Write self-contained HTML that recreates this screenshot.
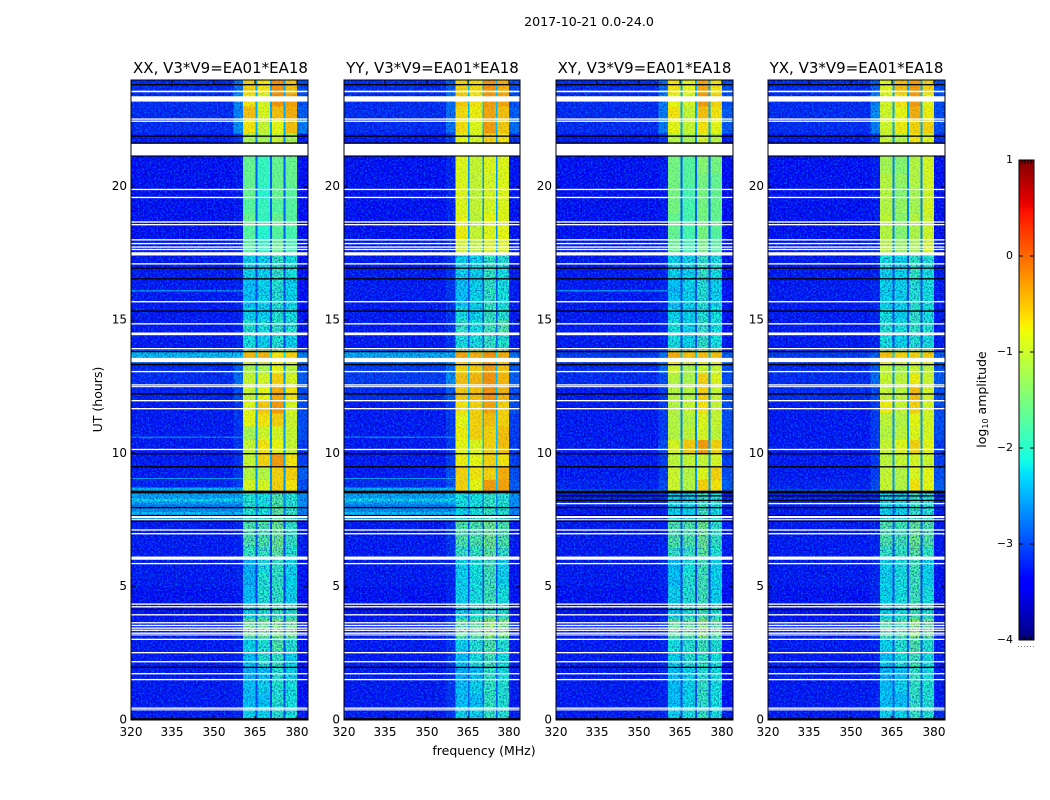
<!DOCTYPE html>
<html lang="en">
<head>
<meta charset="utf-8">
<title>2017-10-21 0.0-24.0</title>
<style>
html,body{margin:0;padding:0;background:#fff;}
svg{display:block;}
text{font-family:"DejaVu Sans","Liberation Sans",sans-serif;fill:#000;}
.tick{font-size:12px;}
.title{font-size:15px;text-anchor:middle;}
.label{font-size:12.5px;text-anchor:middle;}
</style>
</head>
<body>
<svg id="figure" xmlns="http://www.w3.org/2000/svg" width="1050" height="800" viewBox="0 0 1050 800">
  <defs>
    <filter id="speckle-dark" filterUnits="userSpaceOnUse" x="0" y="0" width="1050" height="800" color-interpolation-filters="sRGB">
      <feTurbulence type="fractalNoise" baseFrequency="0.62" numOctaves="1" seed="4"/>
      <feColorMatrix type="matrix" values="0 0 0 0 0  0 0 0 0 0  0 0 0 0 0.55  2.6 0 0 0 -1.1"/>
      <feComposite in2="SourceGraphic" operator="in"/>
    </filter>
    <filter id="speckle-light" filterUnits="userSpaceOnUse" x="0" y="0" width="1050" height="800" color-interpolation-filters="sRGB">
      <feTurbulence type="fractalNoise" baseFrequency="0.58" numOctaves="1" seed="11"/>
      <feColorMatrix type="matrix" values="0 0 0 0 0  0 0 0 0 0.65  0 0 0 0 1  0 2.6 0 0 -1.15"/>
      <feComposite in2="SourceGraphic" operator="in"/>
    </filter>
  </defs>
  <rect x="0" y="0" width="1050" height="800" fill="#fff"/>
  <text x="589" y="26" class="label" style="font-size:12.6px">2017-10-21 0.0-24.0</text>
  <text x="220.5" y="73" class="title">XX, V3*V9=EA01*EA18</text>
  <text x="432.5" y="73" class="title">YY, V3*V9=EA01*EA18</text>
  <text x="644.5" y="73" class="title">XY, V3*V9=EA01*EA18</text>
  <text x="856.5" y="73" class="title">YX, V3*V9=EA01*EA18</text>
  <text x="484" y="755" class="label">frequency (MHz)</text>
  <text class="label" transform="translate(102 399.5) rotate(-90)">UT (hours)</text>
  <text class="label" transform="translate(986 399.5) rotate(-90)">log<tspan font-size="8px" dy="2">10</tspan><tspan dy="-2"> amplitude</tspan></text>
  <g id="panels"></g>
  <g id="colorbar"></g>
</svg>
<script>
// UT row boundaries (hours)
const rowEdges = [0,.5,1,1.5,2,2.5,3.1,3.8,4.3,5,5.5,6,6.5,7.5,8,8.54,9,9.5,10,10.5,11,11.5,12,12.5,13,13.4,13.85,14.5,15,15.5,16,16.5,17,17.5,18,18.5,19,19.5,20,20.5,21.15,21.6,22,22.5,23,23.5,24];
// frequency column boundaries (MHz)
const freqEdges = [320,357,360.5,365.1,365.7,370.3,370.9,375.2,375.8,380,384];
// which value of a row each frequency column reads: background, near-band, sub1, gap, sub2, gap, sub3, gap, sub4, upper edge
const columnSource = [0,1,2,6,3,6,4,6,5,7];

// log10 amplitude per row: [background, near-band, sub1, sub2, sub3, sub4, gap, upper edge]
const amplitudeXX = [
[-3.3,-3.25,-2.2,-2.2,-2.0,-2.1,-3.0,-3.3],[-3.3,-3.25,-2.3,-2.3,-2.0,-2.1,-3.0,-3.35],[-3.3,-3.25,-2.3,-2.2,-2.0,-2.1,-3.0,-3.35],[-3.3,-3.25,-2.4,-2.3,-2.0,-2.2,-3.0,-3.35],[-3.3,-3.25,-2.3,-2.0,-1.9,-2.2,-3.0,-3.35],[-3.3,-3.25,-2.2,-2.0,-1.7,-2.0,-3.0,-3.35],
[-3.3,-3.2,-1.5,-1.5,-1.4,-1.5,-2.9,-3.35],[-3.35,-3.3,-2.2,-2.0,-1.9,-2.0,-3.0,-3.4],[-3.35,-3.3,-2.3,-2.0,-1.9,-2.2,-3.1,-3.4],[-3.3,-3.25,-2.4,-2.0,-1.9,-2.2,-3.1,-3.35],[-3.3,-3.25,-2.4,-2.1,-1.9,-2.2,-3.1,-3.35],[-3.3,-3.25,-1.9,-1.9,-1.6,-2.0,-3.0,-3.3],
[-3.3,-3.25,-1.7,-1.7,-1.5,-1.9,-3.0,-3.3],[-2.6,-2.6,-2.0,-2.1,-1.6,-1.9,-2.7,-2.7],[-2.5,-2.5,-2.0,-2.1,-1.7,-2.0,-2.6,-2.6],[-3.25,-3.1,-0.9,-0.9,-0.6,-0.7,-2.6,-3.0],[-3.3,-3.15,-1.1,-1.1,-0.6,-0.6,-2.6,-2.9],[-3.3,-3.15,-1.0,-0.6,-0.3,-0.7,-2.5,-3.1],
[-3.3,-3.15,-1.0,-0.7,-0.8,-1.0,-2.6,-3.1],[-3.3,-3.15,-1.2,-0.95,-0.9,-1.0,-2.6,-3.0],[-3.3,-3.15,-0.8,-0.7,-0.6,-0.95,-2.6,-3.0],[-3.3,-3.15,-0.85,-0.55,-0.3,-0.9,-2.5,-3.0],[-3.25,-3.0,-1.0,-0.8,-0.4,-0.7,-2.5,-3.0],[-3.2,-2.8,-1.0,-0.9,-0.6,-0.9,-2.6,-2.9],
[-3.2,-2.9,-1.2,-1.2,-0.8,-1.1,-2.6,-3.0],[-2.5,-2.4,-0.45,-0.45,-0.7,-0.6,-2.2,-2.7],[-3.3,-3.25,-2.1,-2.2,-2.0,-2.2,-3.0,-3.35],[-3.3,-3.25,-2.0,-2.1,-1.9,-2.0,-3.0,-3.35],[-3.3,-3.25,-2.2,-2.2,-2.0,-2.1,-3.0,-3.35],[-3.3,-3.25,-2.3,-2.2,-2.0,-2.2,-3.0,-3.35],
[-3.3,-3.25,-2.3,-2.2,-2.0,-2.2,-3.0,-3.35],[-3.3,-3.25,-2.2,-2.2,-1.9,-2.1,-3.0,-3.35],[-3.3,-3.25,-2.2,-2.2,-1.9,-2.1,-3.0,-3.35],[-3.3,-3.25,-1.7,-1.9,-1.6,-1.8,-2.9,-3.35],[-3.35,-3.3,-1.7,-2.0,-1.7,-1.8,-2.9,-3.4],[-3.35,-3.3,-1.6,-1.9,-1.6,-1.7,-2.9,-3.4],
[-3.35,-3.3,-1.7,-1.9,-1.7,-1.7,-2.9,-3.4],[-3.35,-3.3,-1.6,-2.0,-1.6,-1.7,-2.9,-3.4],[-3.35,-3.3,-1.6,-1.9,-1.6,-1.6,-2.9,-3.4],[-3.35,-3.3,-1.6,-1.9,-1.6,-1.6,-2.9,-3.4],[-3.35,-3.3,-1.6,-1.9,-1.6,-1.6,-2.9,-3.4],[-3.3,-3.15,-1.2,-1.2,-1.0,-1.2,-2.7,-3.3],
[-3.2,-2.6,-0.7,-1.0,-0.8,-0.5,-2.5,-2.7],[-3.2,-2.7,-0.5,-0.9,-0.5,-0.4,-2.5,-2.9],[-3.2,-2.6,-0.7,-0.9,-0.25,-0.35,-2.5,-3.0],[-3.2,-2.8,-0.6,-0.7,-0.25,-0.5,-2.5,-3.0]];

const amplitudeYY = [
[-3.3,-3.15,-2.2,-2.2,-1.9,-2.0,-2.9,-3.3],[-3.3,-3.15,-2.3,-2.3,-1.9,-2.0,-2.9,-3.3],[-3.3,-3.15,-2.3,-2.2,-1.9,-2.0,-2.9,-3.3],[-3.3,-3.15,-2.4,-2.3,-1.9,-2.1,-2.9,-3.3],[-3.3,-3.15,-2.3,-2.1,-1.8,-2.1,-2.9,-3.3],[-3.3,-3.15,-2.2,-2.0,-1.7,-2.0,-2.9,-3.3],
[-3.3,-3.15,-1.6,-1.6,-1.3,-1.4,-2.9,-3.3],[-3.35,-3.25,-2.2,-2.1,-1.8,-2.0,-3.0,-3.35],[-3.35,-3.25,-2.2,-2.1,-1.8,-2.1,-3.0,-3.35],[-3.3,-3.25,-2.2,-2.1,-1.8,-2.2,-3.0,-3.35],[-3.3,-3.25,-2.2,-2.1,-1.8,-2.2,-3.0,-3.35],[-3.3,-3.15,-1.9,-1.9,-1.6,-1.9,-3.0,-3.3],
[-3.3,-3.15,-1.7,-1.7,-1.5,-1.7,-2.9,-3.3],[-2.6,-2.6,-2.2,-2.1,-1.9,-2.0,-2.7,-2.7],[-2.5,-2.4,-2.1,-2.1,-1.9,-2.0,-2.6,-2.6],[-3.2,-3.0,-0.6,-0.8,-0.3,-0.35,-2.4,-2.9],[-3.3,-3.0,-0.6,-0.7,-0.6,-0.4,-2.4,-3.0],[-3.3,-3.1,-0.75,-0.8,-0.6,-0.7,-2.4,-3.1],
[-3.3,-3.1,-0.8,-0.85,-0.6,-0.5,-2.4,-3.1],[-3.3,-3.1,-0.75,-0.6,-0.6,-0.5,-2.4,-3.1],[-3.3,-3.1,-0.8,-0.6,-0.5,-0.6,-2.4,-3.1],[-3.3,-3.1,-0.7,-0.6,-0.35,-0.6,-2.4,-3.0],[-3.2,-2.9,-0.55,-0.5,-0.25,-0.45,-2.4,-3.0],[-3.1,-2.6,-0.5,-0.45,-0.25,-0.45,-2.4,-2.9],
[-3.1,-2.8,-0.6,-0.55,-0.3,-0.5,-2.4,-2.9],[-2.6,-2.5,-0.35,-0.4,-0.25,-0.4,-2.2,-2.8],[-3.3,-3.15,-2.1,-2.1,-1.9,-2.0,-2.9,-3.3],[-3.3,-3.15,-1.9,-2.1,-1.8,-1.7,-2.9,-3.3],[-3.3,-3.15,-2.1,-2.2,-1.9,-2.0,-3.0,-3.3],[-3.3,-3.15,-2.3,-2.2,-1.9,-2.1,-3.0,-3.3],
[-3.3,-3.15,-2.3,-2.2,-1.9,-2.1,-3.0,-3.3],[-3.3,-3.15,-2.2,-2.2,-1.9,-2.1,-3.0,-3.3],[-3.3,-3.15,-2.2,-2.2,-1.9,-2.0,-3.0,-3.3],[-3.3,-3.25,-0.95,-1.05,-0.9,-0.9,-2.6,-3.3],[-3.35,-3.25,-0.75,-1.0,-0.85,-0.8,-2.6,-3.35],[-3.35,-3.25,-0.8,-1.05,-0.8,-0.85,-2.6,-3.35],
[-3.35,-3.25,-0.85,-1.0,-0.9,-0.85,-2.6,-3.35],[-3.35,-3.25,-0.85,-1.05,-0.9,-0.85,-2.6,-3.35],[-3.35,-3.25,-0.85,-1.0,-0.9,-0.85,-2.6,-3.35],[-3.35,-3.25,-0.85,-1.0,-0.85,-0.85,-2.6,-3.35],[-3.35,-3.25,-0.85,-1.0,-0.85,-0.85,-2.6,-3.35],[-3.3,-3.1,-0.8,-0.9,-0.6,-0.7,-2.6,-3.2],
[-3.2,-2.8,-0.65,-0.85,-0.3,-0.55,-2.4,-2.8],[-3.2,-2.8,-0.65,-0.75,-0.35,-0.5,-2.4,-2.9],[-3.2,-2.8,-0.55,-0.7,-0.3,-0.35,-2.4,-3.0],[-3.2,-2.9,-0.6,-0.65,-0.25,-0.4,-2.4,-3.0]];

const amplitudeXY = [
[-3.3,-3.25,-2.2,-2.1,-1.9,-2.1,-3.0,-3.3],[-3.3,-3.25,-2.3,-2.2,-1.9,-2.1,-3.0,-3.35],[-3.3,-3.25,-2.3,-2.2,-1.9,-2.1,-3.0,-3.35],[-3.3,-3.25,-2.3,-2.2,-2.0,-2.1,-3.0,-3.35],[-3.3,-3.25,-2.2,-2.0,-1.9,-2.1,-3.0,-3.35],[-3.3,-3.25,-2.1,-2.0,-1.8,-2.0,-3.0,-3.35],
[-3.3,-3.2,-1.6,-1.6,-1.3,-1.6,-2.9,-3.35],[-3.35,-3.3,-2.2,-2.0,-1.8,-2.0,-3.0,-3.4],[-3.35,-3.3,-2.2,-2.0,-1.8,-2.2,-3.1,-3.4],[-3.3,-3.25,-2.3,-2.0,-1.8,-2.2,-3.1,-3.35],[-3.3,-3.25,-2.3,-2.1,-1.8,-2.2,-3.1,-3.35],[-3.3,-3.25,-1.9,-1.9,-1.6,-2.0,-3.0,-3.3],
[-3.3,-3.25,-1.7,-1.7,-1.5,-1.9,-3.0,-3.3],[-3.3,-3.25,-2.2,-2.2,-1.8,-2.1,-3.0,-3.3],[-3.25,-3.2,-2.2,-2.2,-1.9,-2.1,-3.0,-3.25],[-3.25,-3.0,-0.95,-1.1,-0.6,-0.7,-2.6,-2.9],[-3.3,-3.1,-0.95,-1.1,-0.85,-0.6,-2.6,-3.0],[-3.3,-3.1,-1.05,-1.0,-1.0,-0.9,-2.6,-3.1],
[-3.3,-3.0,-0.9,-0.55,-0.3,-0.6,-2.5,-3.0],[-3.3,-3.1,-1.1,-1.05,-0.9,-1.05,-2.7,-3.0],[-3.3,-3.1,-1.1,-1.1,-0.85,-1.0,-2.7,-3.0],[-3.3,-3.1,-1.1,-1.0,-0.7,-1.0,-2.7,-3.0],[-3.3,-3.1,-1.1,-1.1,-0.6,-1.0,-2.7,-3.0],[-3.2,-3.0,-1.1,-1.15,-0.6,-0.85,-2.7,-3.0],
[-3.2,-2.8,-0.95,-1.2,-1.0,-1.0,-2.7,-3.0],[-3.1,-2.8,-0.4,-0.5,-0.5,-0.5,-2.3,-2.9],[-3.3,-3.25,-2.1,-2.2,-1.9,-2.1,-3.0,-3.35],[-3.3,-3.25,-2.1,-2.2,-1.9,-2.1,-3.0,-3.35],[-3.3,-3.25,-2.2,-2.2,-2.0,-2.1,-3.0,-3.35],[-3.3,-3.25,-2.3,-2.2,-2.0,-2.2,-3.0,-3.35],
[-3.3,-3.25,-2.3,-2.2,-2.0,-2.2,-3.0,-3.35],[-3.3,-3.25,-2.2,-2.2,-1.9,-2.1,-3.0,-3.35],[-3.3,-3.25,-2.2,-2.2,-1.9,-2.1,-3.0,-3.35],[-3.3,-3.25,-1.6,-1.8,-1.5,-1.7,-2.9,-3.35],[-3.35,-3.3,-1.6,-1.8,-1.5,-1.7,-2.9,-3.4],[-3.35,-3.3,-1.6,-1.8,-1.5,-1.6,-2.9,-3.4],
[-3.35,-3.3,-1.5,-1.8,-1.5,-1.6,-2.9,-3.4],[-3.35,-3.3,-1.5,-1.8,-1.5,-1.6,-2.9,-3.4],[-3.35,-3.3,-1.5,-1.7,-1.5,-1.6,-2.9,-3.4],[-3.35,-3.3,-1.5,-1.7,-1.4,-1.5,-2.9,-3.4],[-3.35,-3.3,-1.5,-1.7,-1.4,-1.5,-2.9,-3.4],[-3.3,-3.15,-1.1,-1.2,-0.9,-1.1,-2.7,-3.3],
[-3.2,-2.7,-0.8,-1.0,-0.7,-0.8,-2.5,-2.9],[-3.2,-2.7,-0.7,-1.0,-0.5,-0.7,-2.5,-2.9],[-3.2,-2.7,-0.8,-0.9,-0.3,-0.6,-2.5,-3.0],[-3.2,-2.8,-0.7,-0.8,-0.35,-0.7,-2.5,-3.0]];

const amplitudeYX = [
[-3.3,-3.25,-2.2,-2.2,-1.9,-2.0,-2.9,-3.2],[-3.3,-3.25,-2.3,-2.3,-1.9,-2.0,-2.9,-3.3],[-3.3,-3.25,-2.3,-2.2,-1.9,-2.0,-2.9,-3.3],[-3.3,-3.25,-2.4,-2.3,-1.9,-2.1,-2.9,-3.3],[-3.3,-3.25,-2.3,-2.1,-1.8,-2.1,-2.9,-3.3],[-3.3,-3.25,-2.2,-2.0,-1.7,-2.0,-2.9,-3.3],
[-3.3,-3.2,-1.7,-1.7,-1.3,-1.5,-2.9,-3.3],[-3.35,-3.25,-2.2,-2.1,-1.8,-2.0,-3.0,-3.35],[-3.35,-3.25,-2.2,-2.1,-1.8,-2.1,-3.0,-3.35],[-3.3,-3.25,-2.2,-2.1,-1.8,-2.2,-3.0,-3.35],[-3.3,-3.25,-2.2,-2.1,-1.8,-2.2,-3.0,-3.35],[-3.3,-3.25,-1.9,-1.9,-1.6,-1.9,-3.0,-3.3],
[-3.3,-3.25,-1.7,-1.8,-1.5,-1.7,-2.9,-3.3],[-3.3,-3.25,-2.2,-2.2,-1.9,-2.0,-3.0,-3.3],[-3.25,-3.2,-2.2,-2.2,-1.9,-2.0,-3.0,-3.25],[-3.25,-3.0,-1.0,-1.1,-0.7,-0.8,-2.6,-2.9],[-3.3,-3.1,-1.0,-1.1,-0.85,-0.8,-2.6,-3.0],[-3.3,-3.1,-1.05,-1.0,-0.9,-0.95,-2.6,-3.1],
[-3.3,-3.1,-1.0,-0.85,-0.6,-0.8,-2.6,-3.1],[-3.3,-3.1,-1.1,-1.05,-0.85,-0.9,-2.6,-3.0],[-3.3,-3.1,-1.05,-1.1,-0.8,-0.9,-2.6,-3.0],[-3.3,-3.1,-0.75,-1.0,-0.6,-0.9,-2.6,-3.0],[-3.2,-3.0,-1.0,-1.05,-0.5,-0.9,-2.6,-3.0],[-3.2,-2.8,-1.0,-1.05,-0.75,-0.95,-2.6,-2.9],
[-3.2,-2.9,-1.05,-1.2,-1.0,-1.05,-2.6,-3.0],[-3.1,-2.9,-0.5,-0.6,-0.6,-0.55,-2.3,-2.9],[-3.3,-3.25,-2.1,-2.2,-2.0,-2.1,-3.0,-3.3],[-3.3,-3.25,-2.0,-2.1,-1.9,-2.0,-3.0,-3.3],[-3.3,-3.25,-2.1,-2.2,-1.9,-2.1,-3.0,-3.3],[-3.3,-3.25,-2.2,-2.2,-2.0,-2.1,-3.0,-3.3],
[-3.3,-3.25,-2.2,-2.2,-2.0,-2.1,-3.0,-3.3],[-3.3,-3.25,-2.2,-2.2,-1.9,-2.1,-3.0,-3.3],[-3.3,-3.25,-2.1,-2.2,-1.9,-2.0,-3.0,-3.3],[-3.3,-3.25,-1.1,-1.3,-1.2,-0.95,-2.7,-3.3],[-3.35,-3.3,-1.1,-1.4,-1.15,-0.95,-2.7,-3.35],[-3.35,-3.3,-1.05,-1.35,-1.1,-0.95,-2.7,-3.35],
[-3.35,-3.3,-1.1,-1.3,-1.2,-0.9,-2.7,-3.35],[-3.35,-3.3,-1.1,-1.4,-1.2,-0.95,-2.7,-3.35],[-3.35,-3.3,-1.1,-1.3,-1.1,-0.9,-2.7,-3.35],[-3.35,-3.3,-1.2,-1.4,-1.1,-0.9,-2.7,-3.35],[-3.35,-3.3,-1.2,-1.4,-1.1,-0.9,-2.7,-3.35],[-3.3,-3.1,-1.0,-1.1,-0.7,-0.85,-2.6,-3.2],
[-3.2,-2.7,-0.95,-0.75,-0.6,-0.6,-2.5,-3.0],[-3.2,-2.6,-0.95,-0.8,-0.4,-0.75,-2.5,-3.0],[-3.2,-2.7,-0.9,-0.7,-0.3,-0.8,-2.5,-3.0],[-3.2,-2.9,-0.85,-0.5,-0.3,-0.6,-2.5,-3.0]];

// narrow background features: [start hour, end hour, log10 amplitude]
const featuresXX = [[16.07,16.12,-2.6],[9.03,9.08,-2.5],[10.58,10.63,-2.7],[8.56,8.72,-2.4],[8.2,8.3,-2.2],[8.0,8.08,-2.75],[7.7,7.8,-2.3],[17.42,17.54,-2.6],[13.45,13.8,-2.35]];
const featuresYY = [[9.03,9.08,-2.5],[10.58,10.63,-2.7],[8.56,8.72,-2.4],[8.2,8.3,-2.2],[8.0,8.08,-2.75],[7.7,7.8,-2.3],[13.45,13.8,-2.45]];
const featuresXY = [[16.07,16.12,-2.6],[8.56,8.65,-2.8]];
const featuresYX = [[8.56,8.65,-2.8]];

// flagged (blank) time ranges drawn white, hours
const whiteFlags = [[23.54,23.6],[23.19,23.39],[22.51,22.56],[22.43,22.48],[21.17,21.61],[19.87,19.92],[19.57,19.62],[18.65,18.7],[18.55,18.6],[17.98,18.03],[17.84,17.89],[17.71,17.76],[17.62,17.67],[17.42,17.54],[17.08,17.13],[15.66,15.71],[14.83,14.88],[14.43,14.53],[13.9,13.95],[13.42,13.58],[13.04,13.09],[12.54,12.59],[12.48,12.52],[11.95,12],[11.65,11.7],[10.12,10.17],[7.57,7.66],[7.49,7.53],[7.1,7.15],[6.96,7.01],[6.01,6.13],[5.84,5.89],[4.32,4.37],[4.22,4.27],[3.92,3.97],[3.62,3.67],[3.52,3.57],[3.42,3.47],[3.34,3.39],[3.23,3.28],[3.17,3.21],[3,3.05],[2.5,2.55],[2.16,2.21],[1.71,1.76],[1.49,1.54],[0.42,0.47],[0.36,0.4]];
// flagged time ranges drawn black, hours
const blackFlags = [[23.8,23.85],[21.87,21.92],[21.61,21.66],[21.13,21.17],[16.92,16.97],[16.52,16.57],[15.31,15.36],[13.79,13.84],[13.3,13.35],[12.2,12.25],[9.96,10.01],[9.47,9.52],[8.5,8.6],[7.94,7.99],[7.65,7.69],[7.43,7.48],[4.12,4.17],[1.95,2],[0,0.07]];
// extra black flags seen only in the cross-hand panels, hours
const extraBlackCross = [[8.38,8.43],[8.21,8.26]];
// extra white flags seen only in the cross-hand panels, hours
const extraWhiteCross = [[8.09,8.14]];
// time ranges with weak, noisy signal inside the band, hours
const noisyRanges = [[0,8.54],[13.85,17.5]];
// time ranges with strong, clean signal inside the band, hours
const cleanRanges = [[8.54,13.85],[17.5,24]];

const xTickLabels = [320,335,350,365,380];
const yTickLabels = [0,5,10,15,20];
const colorbarTickValues = [1,0,-1,-2,-3,-4];

const panelLefts = [131,344,556,768];
const panelWidths = [177,176,177,177];
const svgNS = 'http://www.w3.org/2000/svg';

function xScale(freq, left, width){ return left + (freq - 320) * width / 64; }
function yScale(hour){ return 720 - hour * 640 / 24; }
function cbScale(v){ return 640 - (v + 4) * 480 / 5; }

function jet(t){
  t = Math.max(0, Math.min(1, t));
  const ramp = function(pts){
    for (let i = 1; i < pts.length; i++){
      if (t <= pts[i][0]){
        const a = pts[i-1], b = pts[i];
        return a[1] + (b[1]-a[1]) * (t-a[0]) / (b[0]-a[0]);
      }
    }
    return pts[pts.length-1][1];
  };
  const r = ramp([[0,0],[.35,0],[.66,1],[.89,1],[1,.5]]);
  const g = ramp([[0,0],[.125,0],[.375,1],[.64,1],[.91,0],[1,0]]);
  const b = ramp([[0,.5],[.11,1],[.34,1],[.65,0],[1,0]]);
  return 'rgb(' + Math.round(r*255) + ',' + Math.round(g*255) + ',' + Math.round(b*255) + ')';
}
function valueColor(v){ return jet((v + 4) / 5); }

function make(tag, parent){
  const el = document.createElementNS(svgNS, tag);
  parent.appendChild(el);
  return el;
}
function setRect(el, x, y, w, h, fill){
  el.setAttribute('x', x);
  el.setAttribute('y', y);
  el.setAttribute('width', w);
  el.setAttribute('height', h);
  el.setAttribute('fill', fill);
  el.setAttribute('shape-rendering', 'crispEdges');
}
function setLine(el, x1, y1, x2, y2){
  el.setAttribute('x1', x1);
  el.setAttribute('y1', y1);
  el.setAttribute('x2', x2);
  el.setAttribute('y2', y2);
  el.setAttribute('stroke', '#000');
  el.setAttribute('stroke-width', '1');
  el.setAttribute('shape-rendering', 'crispEdges');
}

function drawFlags(group, flags, left, width, color, name){
  flags.forEach(function(f){
    const top = yScale(f[1]);
    const bot = yScale(f[0]);
    const r = make('rect', group);
    
    
    setRect(r, left, top, width, bot - top, color);
    r.setAttribute('shape-rendering', 'geometricPrecision');
  });
}

function drawSpeckle(group, x, w, y, h, darkOpacity, lightOpacity){
  const dark = make('rect', group);
  
  
  setRect(dark, x, y, w, h, '#000');
  dark.setAttribute('filter', 'url(#speckle-dark)');
  dark.setAttribute('opacity', darkOpacity);
  const light = make('rect', group);
  
  
  setRect(light, x, y, w, h, '#000');
  light.setAttribute('filter', 'url(#speckle-light)');
  light.setAttribute('opacity', lightOpacity);
}

function drawPanel(index, amplitude, features, isCross){
  const left = panelLefts[index];
  const width = panelWidths[index];
  const root = document.getElementById('panels');
  const group = make('g', root);
  
  

  amplitude.forEach(function(row, r){
    const yTop = yScale(rowEdges[r+1]);
    const yBot = yScale(rowEdges[r]);
    columnSource.forEach(function(src, c){
      const x0 = xScale(freqEdges[c], left, width);
      const x1 = xScale(freqEdges[c+1], left, width);
      const cell = make('rect', group);
      
      
      setRect(cell, x0, yTop, x1 - x0, yBot - yTop, valueColor(row[src]));
    });
  });

  features.forEach(function(f){
    const x0 = xScale(320, left, width);
    const x1 = xScale(360.5, left, width);
    const bar = make('rect', group);
    
    
    setRect(bar, x0, yScale(f[1]), x1 - x0, Math.max(1, yScale(f[0]) - yScale(f[1])), valueColor(f[2]));
  });

  const bandStart = xScale(360.5, left, width);
  const bandEnd = xScale(380, left, width);
  drawSpeckle(group, left, bandStart - left, 80, 640, '0.75', '0.6');
  drawSpeckle(group, bandEnd, left + width - bandEnd, 80, 640, '0.75', '0.6');
  noisyRanges.forEach(function(range){
    drawSpeckle(group, bandStart, bandEnd - bandStart, yScale(range[1]), yScale(range[0]) - yScale(range[1]), '0.7', '0.55');
  });
  cleanRanges.forEach(function(range){
    drawSpeckle(group, bandStart, bandEnd - bandStart, yScale(range[1]), yScale(range[0]) - yScale(range[1]), '0.2', '0.12');
  });

  drawFlags(group, whiteFlags, left, width, '#fff', 'flagged-time-white');
  drawFlags(group, blackFlags, left, width, '#000', 'flagged-time-black');
  if (isCross){
    drawFlags(group, extraBlackCross, left, width, '#000', 'flagged-time-black');
    drawFlags(group, extraWhiteCross, left, width, '#fff', 'flagged-time-white');
  }

  const frame = make('rect', group);
  
  
  setRect(frame, left, 80, width, 640, 'none');
  frame.setAttribute('stroke', '#000');
  frame.setAttribute('stroke-width', '1');

  xTickLabels.forEach(function(v){
    const x = Math.round(xScale(v, left, width));
    const t1 = make('line', group);
    
    
    setLine(t1, x, 720, x, 716);
    const t2 = make('line', group);
    
    
    setLine(t2, x, 80, x, 84);
    const lab = make('text', group);
    
    
    lab.setAttribute('class', 'tick');
    lab.setAttribute('x', x);
    lab.setAttribute('y', 736);
    lab.setAttribute('text-anchor', 'middle');
    lab.textContent = v;
  });

  yTickLabels.forEach(function(v){
    const y = Math.round(yScale(v));
    const t1 = make('line', group);
    
    
    setLine(t1, left, y, left + 4, y);
    const t2 = make('line', group);
    
    
    setLine(t2, left + width, y, left + width - 4, y);
    const lab = make('text', group);
    
    
    lab.setAttribute('class', 'tick');
    lab.setAttribute('x', left - 4);
    lab.setAttribute('y', yScale(v) + 3.5);
    lab.setAttribute('text-anchor', 'end');
    lab.textContent = v;
  });
}

function drawColorbar(){
  const group = document.getElementById('colorbar');
  const x = 1019, w = 15;
  for (let py = 160; py < 640; py += 2){
    const v = -4 + (640 - py - 1) * 5 / 480;
    const seg = make('rect', group);
    
    
    setRect(seg, x, py, w, 2, valueColor(v));
  }
  const frame = make('rect', group);
  
  
  setRect(frame, x, 160, w, 480, 'none');
  frame.setAttribute('stroke', '#000');
  frame.setAttribute('stroke-width', '1');

  colorbarTickValues.forEach(function(v){
    const y = Math.round(cbScale(v));
    const t1 = make('line', group);
    
    
    setLine(t1, x, y, x + 4, y);
    const t2 = make('line', group);
    
    
    setLine(t2, x + w, y, x + w - 4, y);
    const lab = make('text', group);
    
    
    lab.setAttribute('x', 1013);
    lab.setAttribute('y', y + 3);
    lab.setAttribute('text-anchor', 'end');
    lab.setAttribute('style', 'font-size:11px');
    lab.textContent = String(v).replace('-', '\u2212');
  });

  for (let i = 1; i < 5; i++){
    const top = make('line', group);
    
    
    setLine(top, x + i * 3, 160, x + i * 3, 164);
    const bot = make('line', group);
    
    
    setLine(bot, x + i * 3, 640, x + i * 3, 636);
  }

  const dots = make('line', group);
  
  
  dots.setAttribute('x1', 1018);
  dots.setAttribute('x2', 1035);
  dots.setAttribute('y1', 646.5);
  dots.setAttribute('y2', 646.5);
  dots.setAttribute('stroke', '#777');
  dots.setAttribute('stroke-dasharray', '1 2');
}

drawPanel(0, amplitudeXX, featuresXX, false);
drawPanel(1, amplitudeYY, featuresYY, false);
drawPanel(2, amplitudeXY, featuresXY, true);
drawPanel(3, amplitudeYX, featuresYX, true);
drawColorbar();
</script>
</body>
</html>
